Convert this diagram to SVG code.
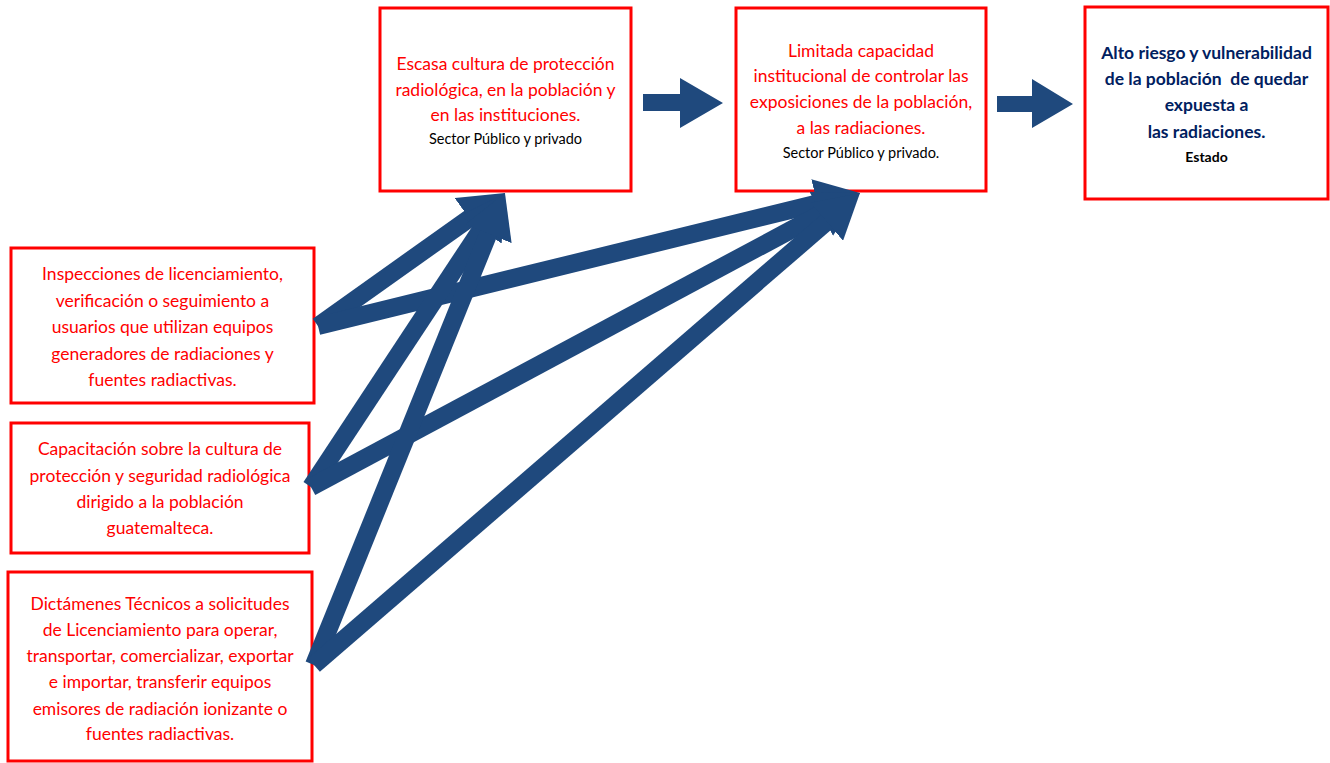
<svg xmlns="http://www.w3.org/2000/svg" width="1330" height="763" viewBox="0 0 1330 763">
<style>
.box{fill:#fff;stroke:#ff0000;stroke-width:3}
.t{font-family:Lato,"Liberation Sans",Arial,sans-serif;font-size:17.5px;fill:#ff0000;text-anchor:middle}
.s{font-family:Lato,"Liberation Sans",Arial,sans-serif;font-size:14.5px;fill:#000;text-anchor:middle}
.n{font-family:Lato,"Liberation Sans",Arial,sans-serif;font-size:17.5px;font-weight:bold;fill:#002060;text-anchor:middle}
.e{font-family:Lato,"Liberation Sans",Arial,sans-serif;font-size:14px;font-weight:bold;fill:#000;text-anchor:middle}
.c{fill:none;stroke:#1f497d;stroke-width:18;stroke-linecap:butt;marker-end:url(#head)}
.blk{fill:#1f497d}
</style>
<defs>
<marker id="head" markerUnits="userSpaceOnUse" viewBox="0 -25 44 50" markerWidth="44" markerHeight="50" refX="2" refY="0" orient="auto">
<path d="M0,-25 L44,0 L0,25 Z" fill="#1f497d"/>
</marker>
</defs>
<rect width="1330" height="763" fill="#fff"/>
<g id="node-escasa">
<rect class="box" x="380" y="8" width="251" height="183"/>
<text class="t" x="505.5" y="70">Escasa cultura de protección</text>
<text class="t" x="505.5" y="95.5">radiológica, en la población y</text>
<text class="t" x="505.5" y="121">en las instituciones.</text>
<text class="s" x="505.5" y="144">Sector Público y privado</text>
</g>
<g id="node-limitada">
<rect class="box" x="736" y="8" width="250" height="183"/>
<text class="t" x="861" y="56.5">Limitada capacidad</text>
<text class="t" x="861" y="82">institucional de controlar las</text>
<text class="t" x="861" y="108">exposiciones de la población,</text>
<text class="t" x="861" y="133.5">a las radiaciones.</text>
<text class="s" x="861" y="158">Sector Público y privado.</text>
</g>
<g id="node-alto-riesgo">
<rect class="box" x="1085" y="7" width="243" height="192"/>
<text class="n" x="1206.5" y="59">Alto riesgo y vulnerabilidad</text>
<text class="n" x="1206.5" y="85" style="white-space:pre">de la población  de quedar</text>
<text class="n" x="1206.5" y="111">expuesta a</text>
<text class="n" x="1206.5" y="138">las radiaciones.</text>
<text class="e" x="1206.5" y="162">Estado</text>
</g>
<g id="node-inspecciones">
<rect class="box" x="11" y="248" width="303" height="155"/>
<text class="t" x="162.5" y="280">Inspecciones de licenciamiento,</text>
<text class="t" x="162.5" y="306.5">verificación o seguimiento a</text>
<text class="t" x="162.5" y="333">usuarios que utilizan equipos</text>
<text class="t" x="162.5" y="359.5">generadores de radiaciones y</text>
<text class="t" x="162.5" y="386">fuentes radiactivas.</text>
</g>
<g id="node-capacitacion">
<rect class="box" x="11" y="423" width="298" height="130"/>
<text class="t" x="160" y="455">Capacitación sobre la cultura de</text>
<text class="t" x="160" y="481.5">protección y seguridad radiológica</text>
<text class="t" x="160" y="508">dirigido a la población</text>
<text class="t" x="160" y="533.5">guatemalteca.</text>
</g>
<g id="node-dictamenes">
<rect class="box" x="8" y="572" width="304" height="189"/>
<text class="t" x="160" y="610">Dictámenes Técnicos a solicitudes</text>
<text class="t" x="160" y="636">de Licenciamiento para operar,</text>
<text class="t" x="160" y="662">transportar, comercializar, exportar</text>
<text class="t" x="160" y="688">e importar, transferir equipos</text>
<text class="t" x="160" y="714.5">emisores de radiación ionizante o</text>
<text class="t" x="160" y="740">fuentes radiactivas.</text>
</g>
<g id="connectors">
<line class="c" x1="318" y1="326" x2="470.8" y2="217.3"/>
<line class="c" x1="318" y1="326" x2="819.2" y2="203"/>
<line class="c" x1="311" y1="487" x2="481.9" y2="228.1"/>
<line class="c" x1="311" y1="487" x2="823" y2="212.8"/>
<line class="c" x1="314" y1="665" x2="489.2" y2="231.9"/>
<line class="c" x1="314" y1="665" x2="828.2" y2="220.5"/>
<polygon class="blk" points="643,94 680,94 680,78 723,103 680,128 680,111 643,111"/>
<polygon class="blk" points="997,96 1032,96 1032,79 1073,104 1032,128 1032,112 997,112"/>
</g>
</svg>
